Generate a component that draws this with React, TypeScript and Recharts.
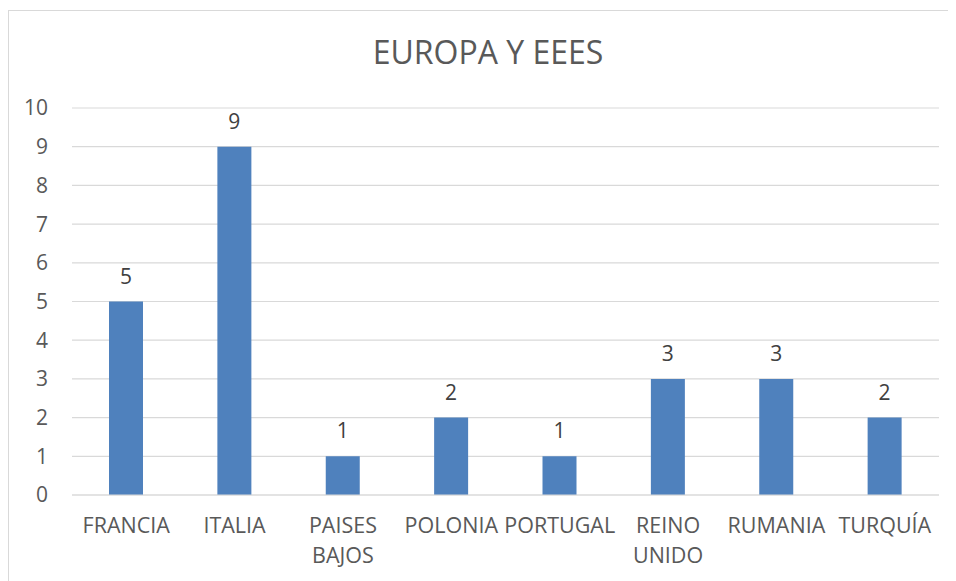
import React from "react";
import { BarChart, Bar, XAxis, YAxis, CartesianGrid, LabelList } from "recharts";

const categories = ["FRANCIA", "ITALIA", "PAISES BAJOS", "POLONIA", "PORTUGAL", "REINO UNIDO", "RUMANIA", "TURQUÍA"];
const values = [5, 9, 1, 2, 1, 3, 3, 2];
const yTicks = [0, 1, 2, 3, 4, 5, 6, 7, 8, 9, 10];
const title = "EUROPA Y EEES";

const data = categories.map((c, i) => ({ name: c, value: values[i] }));

const FONT = "'Open Sans', sans-serif";

const XTick = (props: any) => {
  const { x, y, payload } = props;
  const words = String(payload.value).split(" ");
  return (
    <text x={x} y={y} textAnchor="middle" fill="#595959" fontSize={21.5} fontFamily={FONT}>
      {words.map((w, i) => (
        <tspan key={i} x={x} dy={30}>
          {w}
        </tspan>
      ))}
    </text>
  );
};

export default function App() {
  return (
    <div style={{ position: "relative", width: 948, height: 573, overflow: "hidden", background: "#fff" }}>
      <div
        style={{
          position: "absolute",
          left: 0,
          top: 2,
          width: 1000,
          height: 700,
          border: "1px solid #d9d9d9",
          boxSizing: "border-box",
        }}
      />
      <svg style={{ position: "absolute", left: 0, top: 0 }} width={948} height={80}>
        <text x={480} y={55.5} textAnchor="middle" fill="#595959" fontSize={32} fontFamily={FONT}>
          {title}
        </text>
      </svg>
      <div style={{ position: "absolute", left: 0, top: 0 }}>
        <BarChart
          width={948}
          height={573}
          data={data}
          margin={{ top: 100, right: 17, bottom: 6, left: 0 }}
        >
          <CartesianGrid vertical={false} stroke="#d9d9d9" strokeWidth={1.2} />
          <XAxis
            dataKey="name"
            axisLine={{ stroke: "#d9d9d9", strokeWidth: 1.2 }}
            tickLine={false}
            height={80}
            interval={0}
            tick={<XTick />}
          />
          <YAxis
            domain={[0, 10]}
            ticks={yTicks}
            width={64}
            axisLine={false}
            tickLine={false}
            tickMargin={18}
            interval={0}
            tick={{ fill: "#595959", fontSize: 21, fontFamily: FONT }}
          />
          <Bar dataKey="value" fill="#4f81bd" barSize={34} isAnimationActive={false}>
            <LabelList
              dataKey="value"
              position="top"
              offset={18}
              fill="#404040"
              fontSize={21}
              fontFamily={FONT}
            />
          </Bar>
        </BarChart>
      </div>
    </div>
  );
}
